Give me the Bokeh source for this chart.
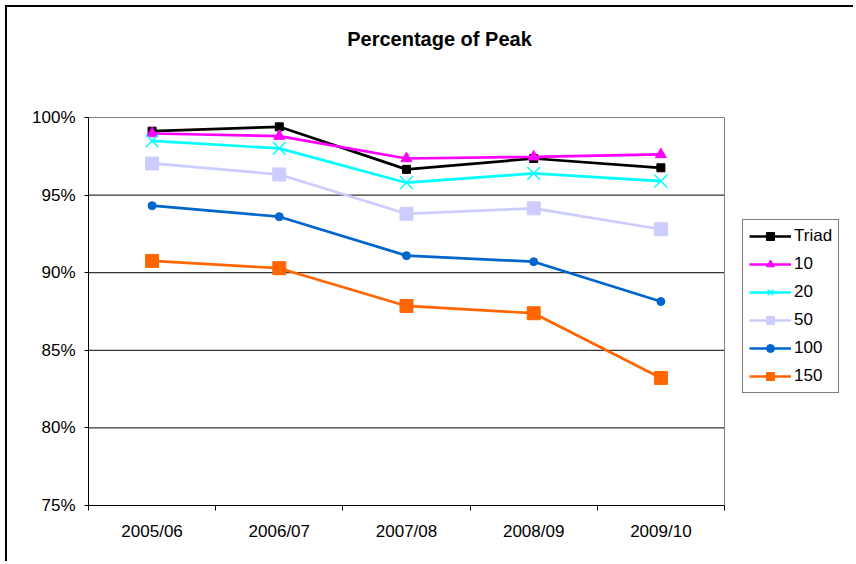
from bokeh.plotting import figure
from bokeh.models import (FixedTicker, NumeralTickFormatter, Range1d, Legend, LegendItem,
                          Label)
from bokeh.embed import file_html
from bokeh.resources import INLINE

categories = ["2005/06", "2006/07", "2007/08", "2008/09", "2009/10"]
triad = [0.9912, 0.9940, 0.9666, 0.9736, 0.9676]
s10 = [0.9897, 0.9880, 0.9736, 0.9747, 0.9762]
s20 = [0.9850, 0.9801, 0.9580, 0.9640, 0.9590]
s50 = [0.9704, 0.9633, 0.9380, 0.9415, 0.9280]
s100 = [0.9432, 0.9361, 0.9110, 0.9071, 0.8814]
s150 = [0.9076, 0.9029, 0.8786, 0.8739, 0.8322]
y_ticks = [0.75, 0.80, 0.85, 0.90, 0.95, 1.00]

FONT = "Liberation Sans"
xs = list(range(len(categories)))
x_lo, x_hi = -0.5, len(categories) - 0.5
y_lo, y_hi = y_ticks[0], y_ticks[-1]

# The frame spans the whole canvas (so legend/title are not clipped); the visible
# plot area is bounded by axis bounds and drawn grid segments.
p = figure(width=848, height=556, output_backend="svg", toolbar_location=None,
           x_range=Range1d(x_lo, 5.53), y_range=Range1d(y_lo, 1.0709),
           min_border_left=81, min_border_right=0, min_border_top=0, min_border_bottom=58)
p.styles = {"margin-left": "5px", "margin-top": "5px",
            "border-left": "2px solid black", "border-top": "2px solid black"}
p.background_fill_color = "white"
p.border_fill_color = "white"
p.outline_line_color = None

# axes
p.xaxis.ticker = FixedTicker(ticks=xs, minor_ticks=[i - 0.5 for i in range(len(categories) + 1)])
p.xaxis.major_label_overrides = {i: c for i, c in enumerate(categories)}
p.xaxis.bounds = (x_lo, x_hi)
p.xaxis.major_tick_out = 0
p.xaxis.major_tick_in = 0
p.xaxis.minor_tick_out = 5
p.xaxis.minor_tick_in = 0
p.xaxis.minor_tick_line_color = "black"
p.xaxis.major_label_standoff = 11
p.yaxis.ticker = FixedTicker(ticks=y_ticks, minor_ticks=[])
p.yaxis.formatter = NumeralTickFormatter(format="0%")
p.yaxis.bounds = (y_lo, y_hi)
p.yaxis.major_tick_out = 4
p.yaxis.major_tick_in = 0
p.yaxis.major_label_standoff = 9
for ax in (p.xaxis, p.yaxis):
    ax.axis_line_color = "black"
    ax.axis_line_width = 1
    ax.major_tick_line_color = "black"
    ax.major_label_text_font = FONT
    ax.major_label_text_font_size = "17px"
    ax.major_label_text_color = "black"

p.xgrid.grid_line_color = None
p.ygrid.grid_line_color = None

# horizontal gridlines limited to the plot area
inner = y_ticks[1:-1]
p.segment(x0=[x_lo] * len(inner), x1=[x_hi] * len(inner), y0=inner, y1=inner,
          line_color="black", line_width=1)
# grey plot-area border on top and right
p.segment(x0=[x_lo, x_hi], x1=[x_hi, x_hi], y0=[y_hi, y_lo], y1=[y_hi, y_hi],
          line_color="#808080", line_width=1)

series = [
    ("Triad", triad, "black", "square", 8),
    ("10", s10, "#FF00FF", "triangle", 11),
    ("20", s20, "#00FFFF", "x", 18),
    ("50", s50, "#CCCCFF", "square", 13),
    ("100", s100, "#0066CC", "circle", 8),
    ("150", s150, "#FF6600", "square", 13),
]
items = []
for name, vals, color, marker, size in series:
    lr = p.line(xs, vals, line_color=color, line_width=2.7)
    if marker == "x":
        sr = p.scatter(xs, vals, marker="x", size=size, line_color=color, line_width=1.5)
    else:
        sr = p.scatter(xs, vals, marker=marker, size=size, fill_color=color, line_color=color,
                       line_width=1)
    items.append(LegendItem(label=name, renderers=[lr, sr]))

lg = Legend(items=items, location=(654, 112))
lg.border_line_color = "black"
lg.border_line_width = 1
lg.background_fill_color = "white"
lg.background_fill_alpha = 1
lg.padding = 6
lg.spacing = 8
lg.glyph_width = 42
lg.glyph_height = 20
lg.label_height = 20
lg.label_standoff = 3
lg.label_text_font = FONT
lg.label_text_font_size = "17px"
lg.label_text_color = "black"
lg.margin = 0
p.add_layout(lg, "center")

title = Label(x=351, y=467, x_units="screen", y_units="screen", text="Percentage of Peak",
              text_align="center", text_baseline="middle", text_font=FONT,
              text_font_size="20px", text_font_style="bold", text_color="black")
p.add_layout(title)

open("out.html", "w").write(file_html(p, INLINE))
